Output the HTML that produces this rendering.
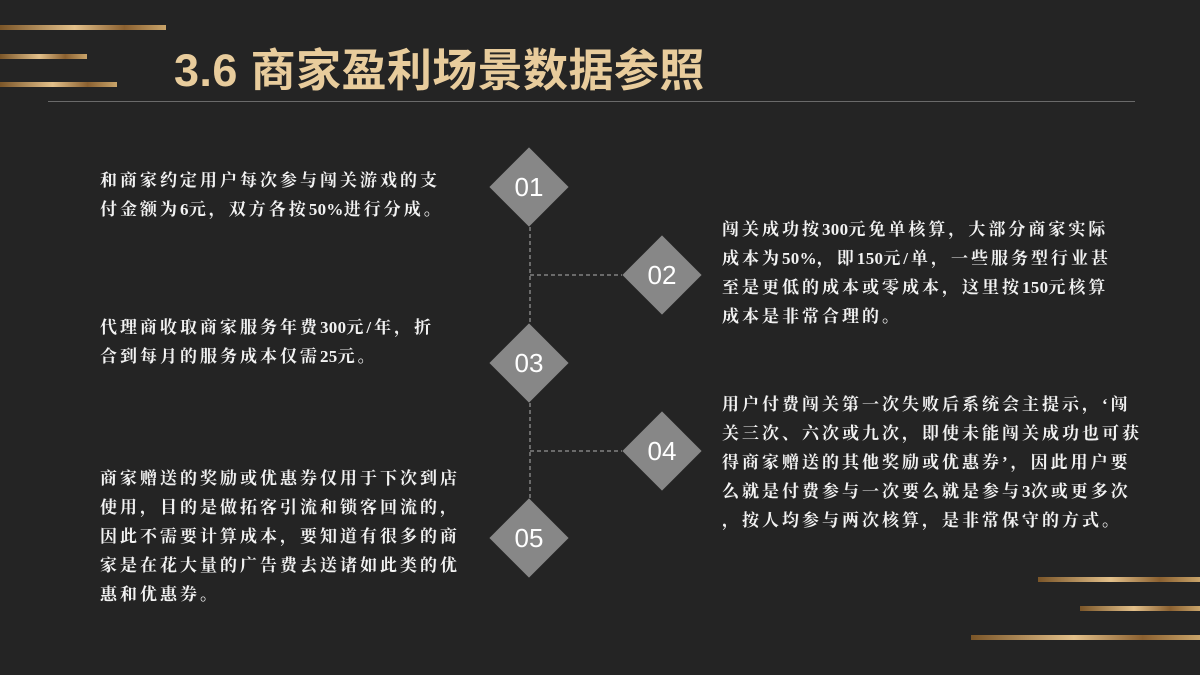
<!DOCTYPE html>
<html><head><meta charset="utf-8"><style>
body{margin:0;width:1200px;height:675px;background:#242424;position:relative;overflow:hidden;font-family:"Liberation Serif","Noto Serif CJK SC",serif;}
.bar{position:absolute;height:5px;background:linear-gradient(90deg,#7a5528,#e3c08a 45%,#8a6030 75%,#c9a46a);}
.t{position:absolute;color:#f2f2f2;font-size:17px;line-height:29px;letter-spacing:3px;white-space:nowrap;font-weight:bold;}
.t i{font-style:normal;letter-spacing:0.3px;}
.d{position:absolute;width:56px;height:56px;background:#878787;transform:rotate(45deg);}
.n{position:absolute;width:80px;text-align:center;color:#fff;font:26px "Liberation Sans",sans-serif;line-height:30px;}
</style></head><body>
<div class="bar" style="left:0;top:25px;width:166px"></div>
<div class="bar" style="left:0;top:54px;width:87px"></div>
<div class="bar" style="left:0;top:82px;width:117px"></div>
<div style="position:absolute;left:48px;top:101px;width:1087px;height:1px;background:#6a6a6a"></div>
<div style="position:absolute;left:174px;top:42px;font:bold 45px 'Liberation Sans','Noto Sans CJK SC',sans-serif;color:#e8cc9c;line-height:58px;letter-spacing:0.4px">3.6 商家盈利场景数据参照</div>
<div class="bar" style="left:1038px;top:577px;width:162px"></div>
<div class="bar" style="left:1080px;top:606px;width:120px"></div>
<div class="bar" style="left:971px;top:635px;width:229px"></div>
<svg style="position:absolute;left:0;top:0" width="1200" height="675"><g stroke="#b0b0b0" stroke-width="1" stroke-dasharray="4,3" fill="none"><line x1="530" y1="227" x2="530" y2="323"/><line x1="530" y1="275" x2="622" y2="275"/><line x1="530" y1="403" x2="530" y2="498"/><line x1="530" y1="451" x2="622" y2="451"/></g></svg>
<div class="d" style="left:501px;top:159px"></div><div class="n" style="left:489px;top:172px">01</div>
<div class="d" style="left:634px;top:247px"></div><div class="n" style="left:622px;top:260px">02</div>
<div class="d" style="left:501px;top:335px"></div><div class="n" style="left:489px;top:348px">03</div>
<div class="d" style="left:634px;top:423px"></div><div class="n" style="left:622px;top:436px">04</div>
<div class="d" style="left:501px;top:510px"></div><div class="n" style="left:489px;top:523px">05</div>
<div class="t" style="left:100px;top:166px">和商家约定用户每次参与闯关游戏的支<br>付金额为<i>6</i>元，双方各按<i>50%</i>进行分成。</div>
<div class="t" style="left:100px;top:313px">代理商收取商家服务年费<i>300</i>元/年，折<br>合到每月的服务成本仅需<i>25</i>元。</div>
<div class="t" style="left:100px;top:464px">商家赠送的奖励或优惠券仅用于下次到店<br>使用，目的是做拓客引流和锁客回流的，<br>因此不需要计算成本，要知道有很多的商<br>家是在花大量的广告费去送诸如此类的优<br>惠和优惠券。</div>
<div class="t" style="left:722px;top:215px">闯关成功按<i>300</i>元免单核算，大部分商家实际<br>成本为<i>50%</i>，即<i>150</i>元/单，一些服务型行业甚<br>至是更低的成本或零成本，这里按<i>150</i>元核算<br>成本是非常合理的。</div>
<div class="t" style="left:722px;top:390px">用户付费闯关第一次失败后系统会主提示，‘闯<br>关三次、六次或九次，即使未能闯关成功也可获<br>得商家赠送的其他奖励或优惠券’，因此用户要<br>么就是付费参与一次要么就是参与<i>3</i>次或更多次<br>，按人均参与两次核算，是非常保守的方式。</div>
</body></html>
